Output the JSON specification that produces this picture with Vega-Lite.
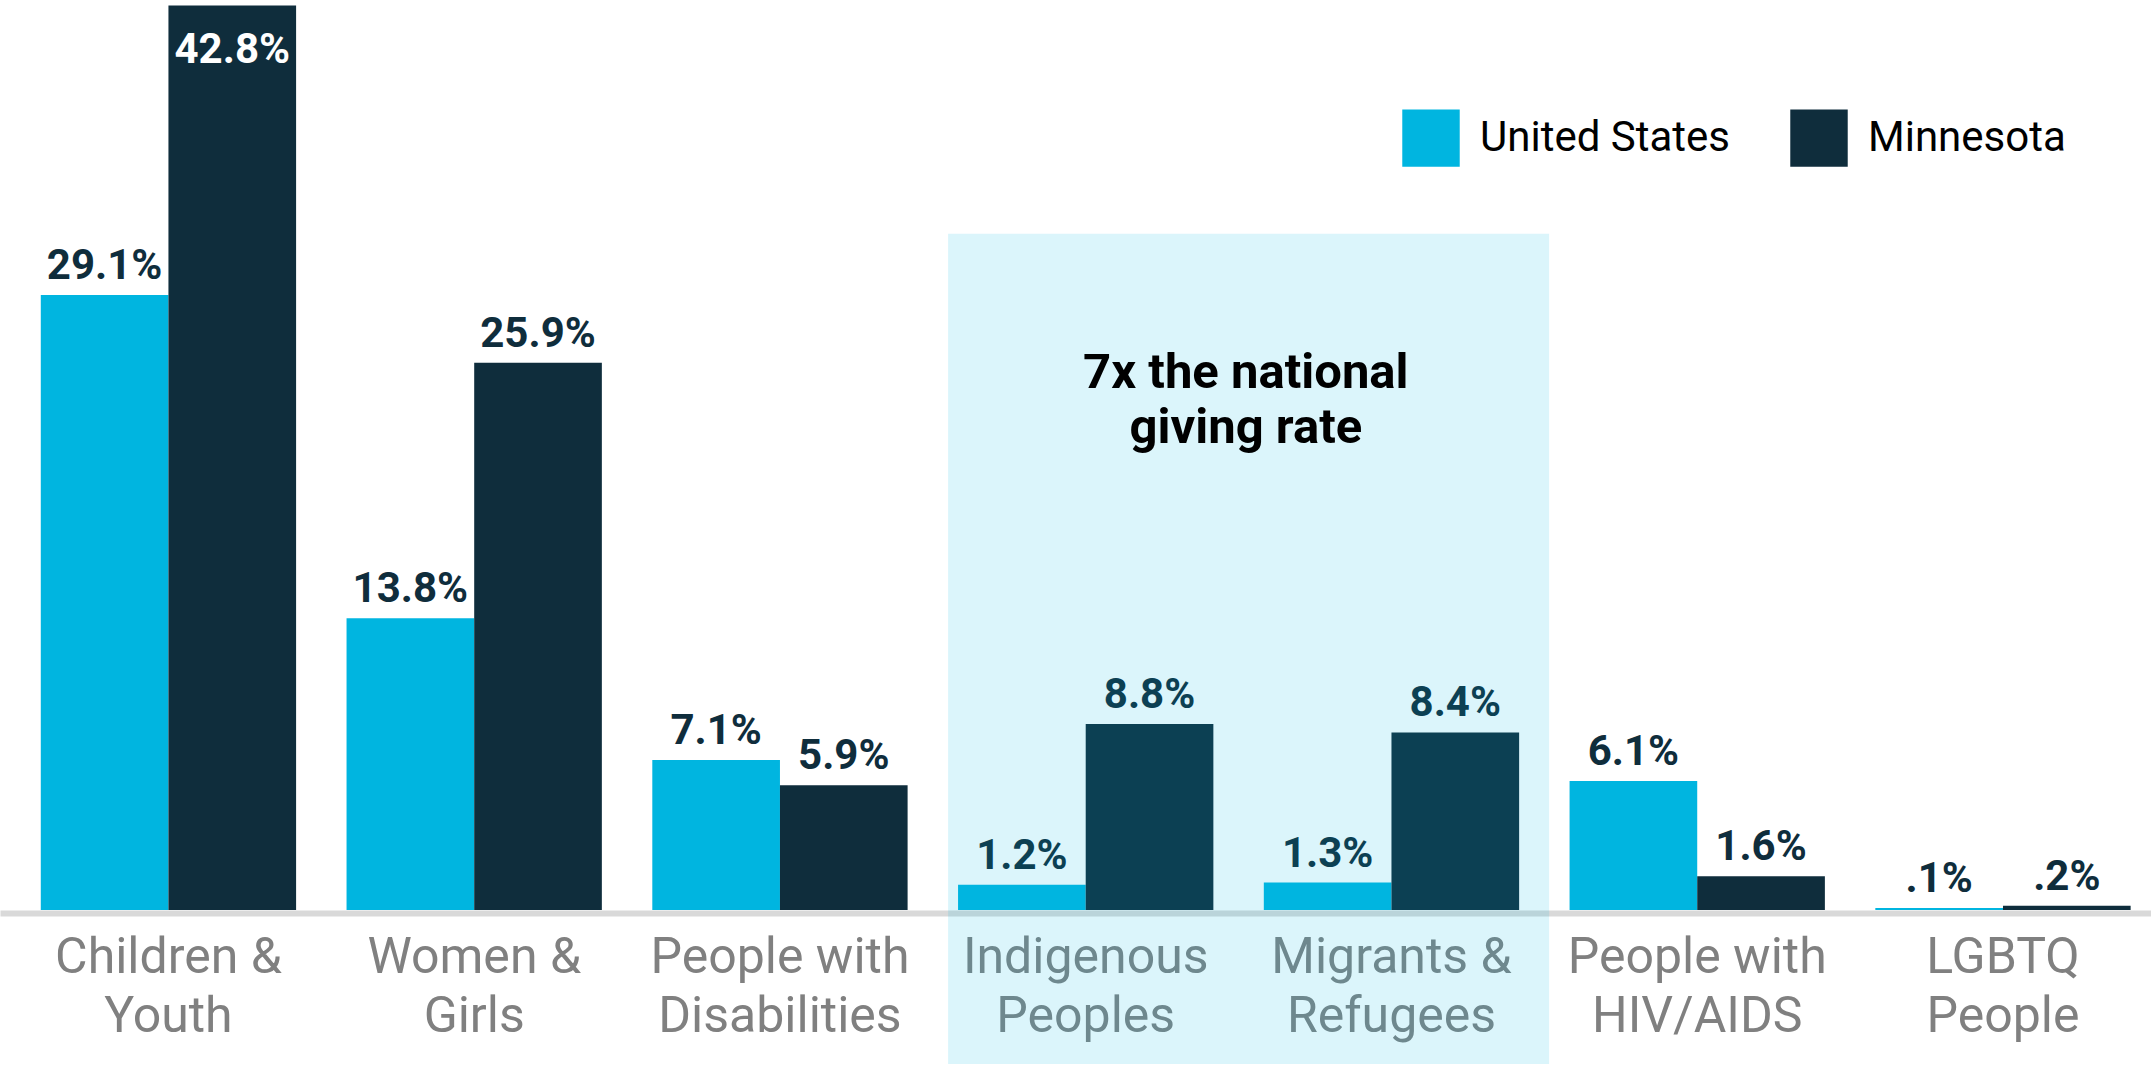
{
  "$schema": "https://vega.github.io/schema/vega-lite/v6.json",
  "width": 2151,
  "height": 910,
  "padding": 0,
  "autosize": {"type": "pad"},
  "background": "white",
  "config": {"view": {"stroke": null}, "font": "Roboto"},
  "datasets": {
    "giving": [
      {"category": "Children & Youth", "region": "United States", "value": 29.1, "label": "29.1%"},
      {"category": "Children & Youth", "region": "Minnesota", "value": 42.8, "label": "42.8%"},
      {"category": "Women & Girls", "region": "United States", "value": 13.8, "label": "13.8%"},
      {"category": "Women & Girls", "region": "Minnesota", "value": 25.9, "label": "25.9%"},
      {"category": "People with Disabilities", "region": "United States", "value": 7.1, "label": "7.1%"},
      {"category": "People with Disabilities", "region": "Minnesota", "value": 5.9, "label": "5.9%"},
      {"category": "Indigenous Peoples", "region": "United States", "value": 1.2, "label": "1.2%"},
      {"category": "Indigenous Peoples", "region": "Minnesota", "value": 8.8, "label": "8.8%"},
      {"category": "Migrants & Refugees", "region": "United States", "value": 1.3, "label": "1.3%"},
      {"category": "Migrants & Refugees", "region": "Minnesota", "value": 8.4, "label": "8.4%"},
      {"category": "People with HIV/AIDS", "region": "United States", "value": 6.1, "label": "6.1%"},
      {"category": "People with HIV/AIDS", "region": "Minnesota", "value": 1.6, "label": "1.6%"},
      {"category": "LGBTQ People", "region": "United States", "value": 0.1, "label": ".1%"},
      {"category": "LGBTQ People", "region": "Minnesota", "value": 0.2, "label": ".2%"}
    ],
    "highlight": [
      {"start": "Indigenous Peoples", "end": "Migrants & Refugees", "top": 32, "note": "7x the national\ngiving rate"}
    ]
  },
  "layer": [
    {
      "data": {"name": "giving"},
      "mark": {"type": "bar"},
      "encoding": {
        "x": {
          "field": "category",
          "type": "nominal",
          "title": null,
          "scale": {
            "domain": ["Children & Youth", "Women & Girls", "People with Disabilities", "Indigenous Peoples", "Migrants & Refugees", "People with HIV/AIDS", "LGBTQ People"],
            "paddingInner": 0.165,
            "paddingOuter": 0.1,
            "align": 0.667
          },
          "axis": {
            "title": null,
            "labelAngle": 0,
            "labelFont": "Roboto",
            "labelFontSize": 50,
            "labelColor": "#808080",
            "labelLineHeight": 59,
            "labelPadding": 19,
            "labelLimit": 0,
            "labelOverlap": false,
            "labelFlush": false,
            "labelBound": false,
            "ticks": false,
            "tickSize": 0,
            "grid": false,
            "domain": true,
            "domainColor": "#d9d9d9",
            "domainWidth": 6,
            "offset": 3,
            "labelExpr": "[slice(datum.label, 0, lastindexof(datum.label, ' ')), slice(datum.label, lastindexof(datum.label, ' ') + 1)]"
          }
        },
        "xOffset": {
          "field": "region",
          "type": "nominal",
          "scale": {"domain": ["United States", "Minnesota"], "paddingInner": 0, "paddingOuter": 0}
        },
        "y": {
          "field": "value",
          "type": "quantitative",
          "scale": {"domain": [0, 43.06], "nice": false, "zero": true},
          "axis": null
        },
        "color": {
          "field": "region",
          "type": "nominal",
          "scale": {"domain": ["United States", "Minnesota"], "range": ["#00b5e0", "#0f2d3c"]},
          "legend": {
            "orient": "none",
            "legendX": 1402,
            "legendY": 109,
            "direction": "horizontal",
            "title": null,
            "symbolType": "square",
            "symbolSize": 3300,
            "symbolStrokeWidth": 0,
            "symbolOpacity": 1,
            "labelFont": "Roboto",
            "labelFontSize": 42,
            "labelColor": "#000000",
            "labelOffset": 20,
            "labelLimit": 0,
            "columnPadding": 60,
            "padding": 0
          }
        }
      }
    },
    {
      "data": {"name": "giving"},
      "transform": [{"filter": "datum.value < 40"}],
      "mark": {
        "type": "text",
        "dy": -16,
        "baseline": "alphabetic",
        "align": "center",
        "font": "Roboto",
        "fontWeight": "bold",
        "fontSize": 42,
        "color": "#0f2d3c"
      },
      "encoding": {
        "x": {"field": "category", "type": "nominal"},
        "xOffset": {"field": "region", "type": "nominal"},
        "y": {"field": "value", "type": "quantitative"},
        "text": {"field": "label"}
      }
    },
    {
      "data": {"name": "giving"},
      "transform": [{"filter": "datum.value >= 40"}],
      "mark": {
        "type": "text",
        "dy": 58,
        "baseline": "alphabetic",
        "align": "center",
        "font": "Roboto",
        "fontWeight": "bold",
        "fontSize": 42,
        "color": "#ffffff"
      },
      "encoding": {
        "x": {"field": "category", "type": "nominal"},
        "xOffset": {"field": "region", "type": "nominal"},
        "y": {"field": "value", "type": "quantitative"},
        "text": {"field": "label"}
      }
    },
    {
      "data": {"name": "highlight"},
      "mark": {"type": "rect", "fill": "#00b5e0", "fillOpacity": 0.14, "xOffset": -10, "x2Offset": 30, "y2Offset": 154},
      "encoding": {
        "x": {"field": "start", "type": "nominal", "bandPosition": 0},
        "x2": {"field": "end", "bandPosition": 1},
        "y": {"field": "top", "type": "quantitative"},
        "y2": {"datum": 0}
      }
    },
    {
      "data": {"name": "highlight"},
      "mark": {
        "type": "text",
        "font": "Roboto",
        "fontWeight": "bold",
        "fontSize": 49,
        "color": "#000000",
        "align": "center",
        "baseline": "alphabetic",
        "lineBreak": "\n",
        "lineHeight": 55,
        "dx": -18
      },
      "encoding": {
        "x": {"field": "end", "type": "nominal", "bandPosition": 0},
        "y": {"datum": 24.7},
        "text": {"field": "note"}
      }
    }
  ]
}
